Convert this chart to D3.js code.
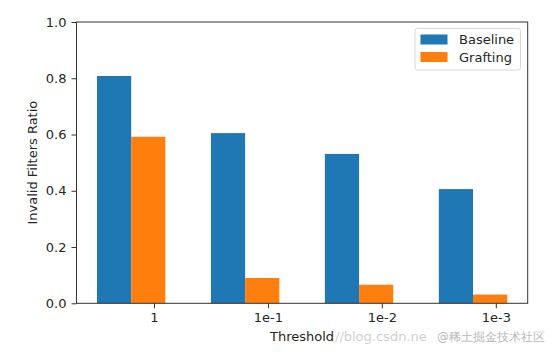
<!DOCTYPE html>
<html>
<head>
<meta charset="utf-8">
<script src="https://cdn.jsdelivr.net/npm/d3@7"></script>
<style>
  body { margin: 0; background: #fff; }
  svg text { font-family: "DejaVu Sans", sans-serif; fill: #262626; }
</style>
</head>
<body>
<svg id="chart"></svg>
<script>
// data
const thresholds = ["1", "1e-1", "1e-2", "1e-3"];
const baseline = [0.808, 0.605, 0.531, 0.406];
const grafting = [0.592, 0.090, 0.066, 0.031];
const seriesNames = ["Baseline", "Grafting"];
const seriesColors = ["#1f77b4", "#ff7f0e"];
const yTicks = [0.0, 0.2, 0.4, 0.6, 0.8, 1.0];

const W = 552, H = 354;
const margin = { top: 22, right: 24.3, bottom: 50.7, left: 76.5 };
const barW = 0.3;

const svg = d3.select("#chart").attr("width", W).attr("height", H);

// x in "data units" like matplotlib: group i at i, xlim with 5% margins
const lo = -barW / 2, hi = (thresholds.length - 1) + barW * 1.5;
const pad = (hi - lo) * 0.05;
const x = d3.scaleLinear()
  .domain([lo - pad, hi + pad])
  .range([margin.left, W - margin.right]);

const y = d3.scaleLinear()
  .domain([0, 1])
  .range([H - margin.bottom, margin.top]);

const data = [];
thresholds.forEach((t, i) => {
  data.push({ i: i, s: 0, value: baseline[i] });
  data.push({ i: i, s: 1, value: grafting[i] });
});

svg.selectAll("rect.bar")
  .data(data)
  .enter()
  .append("rect")
    .attr("class", "bar")
    .attr("x", d => x(d.i + d.s * barW - barW / 2))
    .attr("width", x(barW) - x(0))
    .attr("y", d => y(d.value))
    .attr("height", d => y(0) - y(d.value))
    .attr("fill", d => seriesColors[d.s]);

// x axis, ticks at i + 0.35
const xAxis = d3.axisBottom(x)
  .tickValues(thresholds.map((t, i) => i + 0.35))
  .tickFormat((d, i) => thresholds[i])
  .tickSize(5).tickPadding(4);
const gx = svg.append("g")
  .attr("transform", `translate(0,${H - margin.bottom})`)
  .call(xAxis);
gx.select(".domain").remove();
gx.selectAll("text").attr("font-size", 13).attr("fill", "#262626");
gx.selectAll("line").attr("stroke", "#333");

// y axis
const yAxis = d3.axisLeft(y)
  .tickValues(yTicks)
  .tickFormat(d3.format(".1f"))
  .tickSize(5).tickPadding(5);
const gy = svg.append("g")
  .attr("transform", `translate(${margin.left},0)`)
  .call(yAxis);
gy.select(".domain").remove();
gy.selectAll("text").attr("font-size", 13).attr("fill", "#262626");
gy.selectAll("line").attr("stroke", "#333");

// frame
svg.append("rect")
  .attr("x", margin.left)
  .attr("y", margin.top)
  .attr("width", W - margin.right - margin.left)
  .attr("height", H - margin.bottom - margin.top)
  .attr("fill", "none")
  .attr("stroke", "#333")
  .attr("stroke-width", 1);

// labels
svg.append("text")
  .attr("x", (margin.left + W - margin.right) / 2)
  .attr("y", 341)
  .attr("text-anchor", "middle")
  .attr("font-size", 13)
  .text("Threshold");

svg.append("text")
  .attr("transform", `translate(37,${(margin.top + H - margin.bottom) / 2}) rotate(-90)`)
  .attr("text-anchor", "middle")
  .attr("font-size", 13)
  .text("Invalid Filters Ratio");

// legend
const lg = svg.append("g").attr("transform", "translate(415,28.5)");
lg.append("rect")
  .attr("width", 105.5).attr("height", 41.5)
  .attr("rx", 2.5)
  .attr("fill", "#fff").attr("fill-opacity", 0.8)
  .attr("stroke", "#d8d8d8");
seriesNames.forEach((n, k) => {
  lg.append("rect")
    .attr("x", 5.5).attr("y", 6 + k * 17.5)
    .attr("width", 27).attr("height", 10)
    .attr("fill", seriesColors[k]);
  lg.append("text")
    .attr("x", 44).attr("y", 15.5 + k * 17.5)
    .attr("font-size", 13)
    .text(n);
});

// watermark
svg.append("text")
  .attr("x", 335).attr("y", 341)
  .attr("font-size", 13)
  .style("fill", "#d0d0d0")
  .text("//blog.csdn.ne");
svg.append("text")
  .attr("x", 437).attr("y", 341)
  .attr("font-family", "Noto Sans CJK SC")
  .attr("font-size", 12)
  .style("fill", "#b8b8b8")
  .text("@稀土掘金技术社区");
</script>
</body>
</html>
